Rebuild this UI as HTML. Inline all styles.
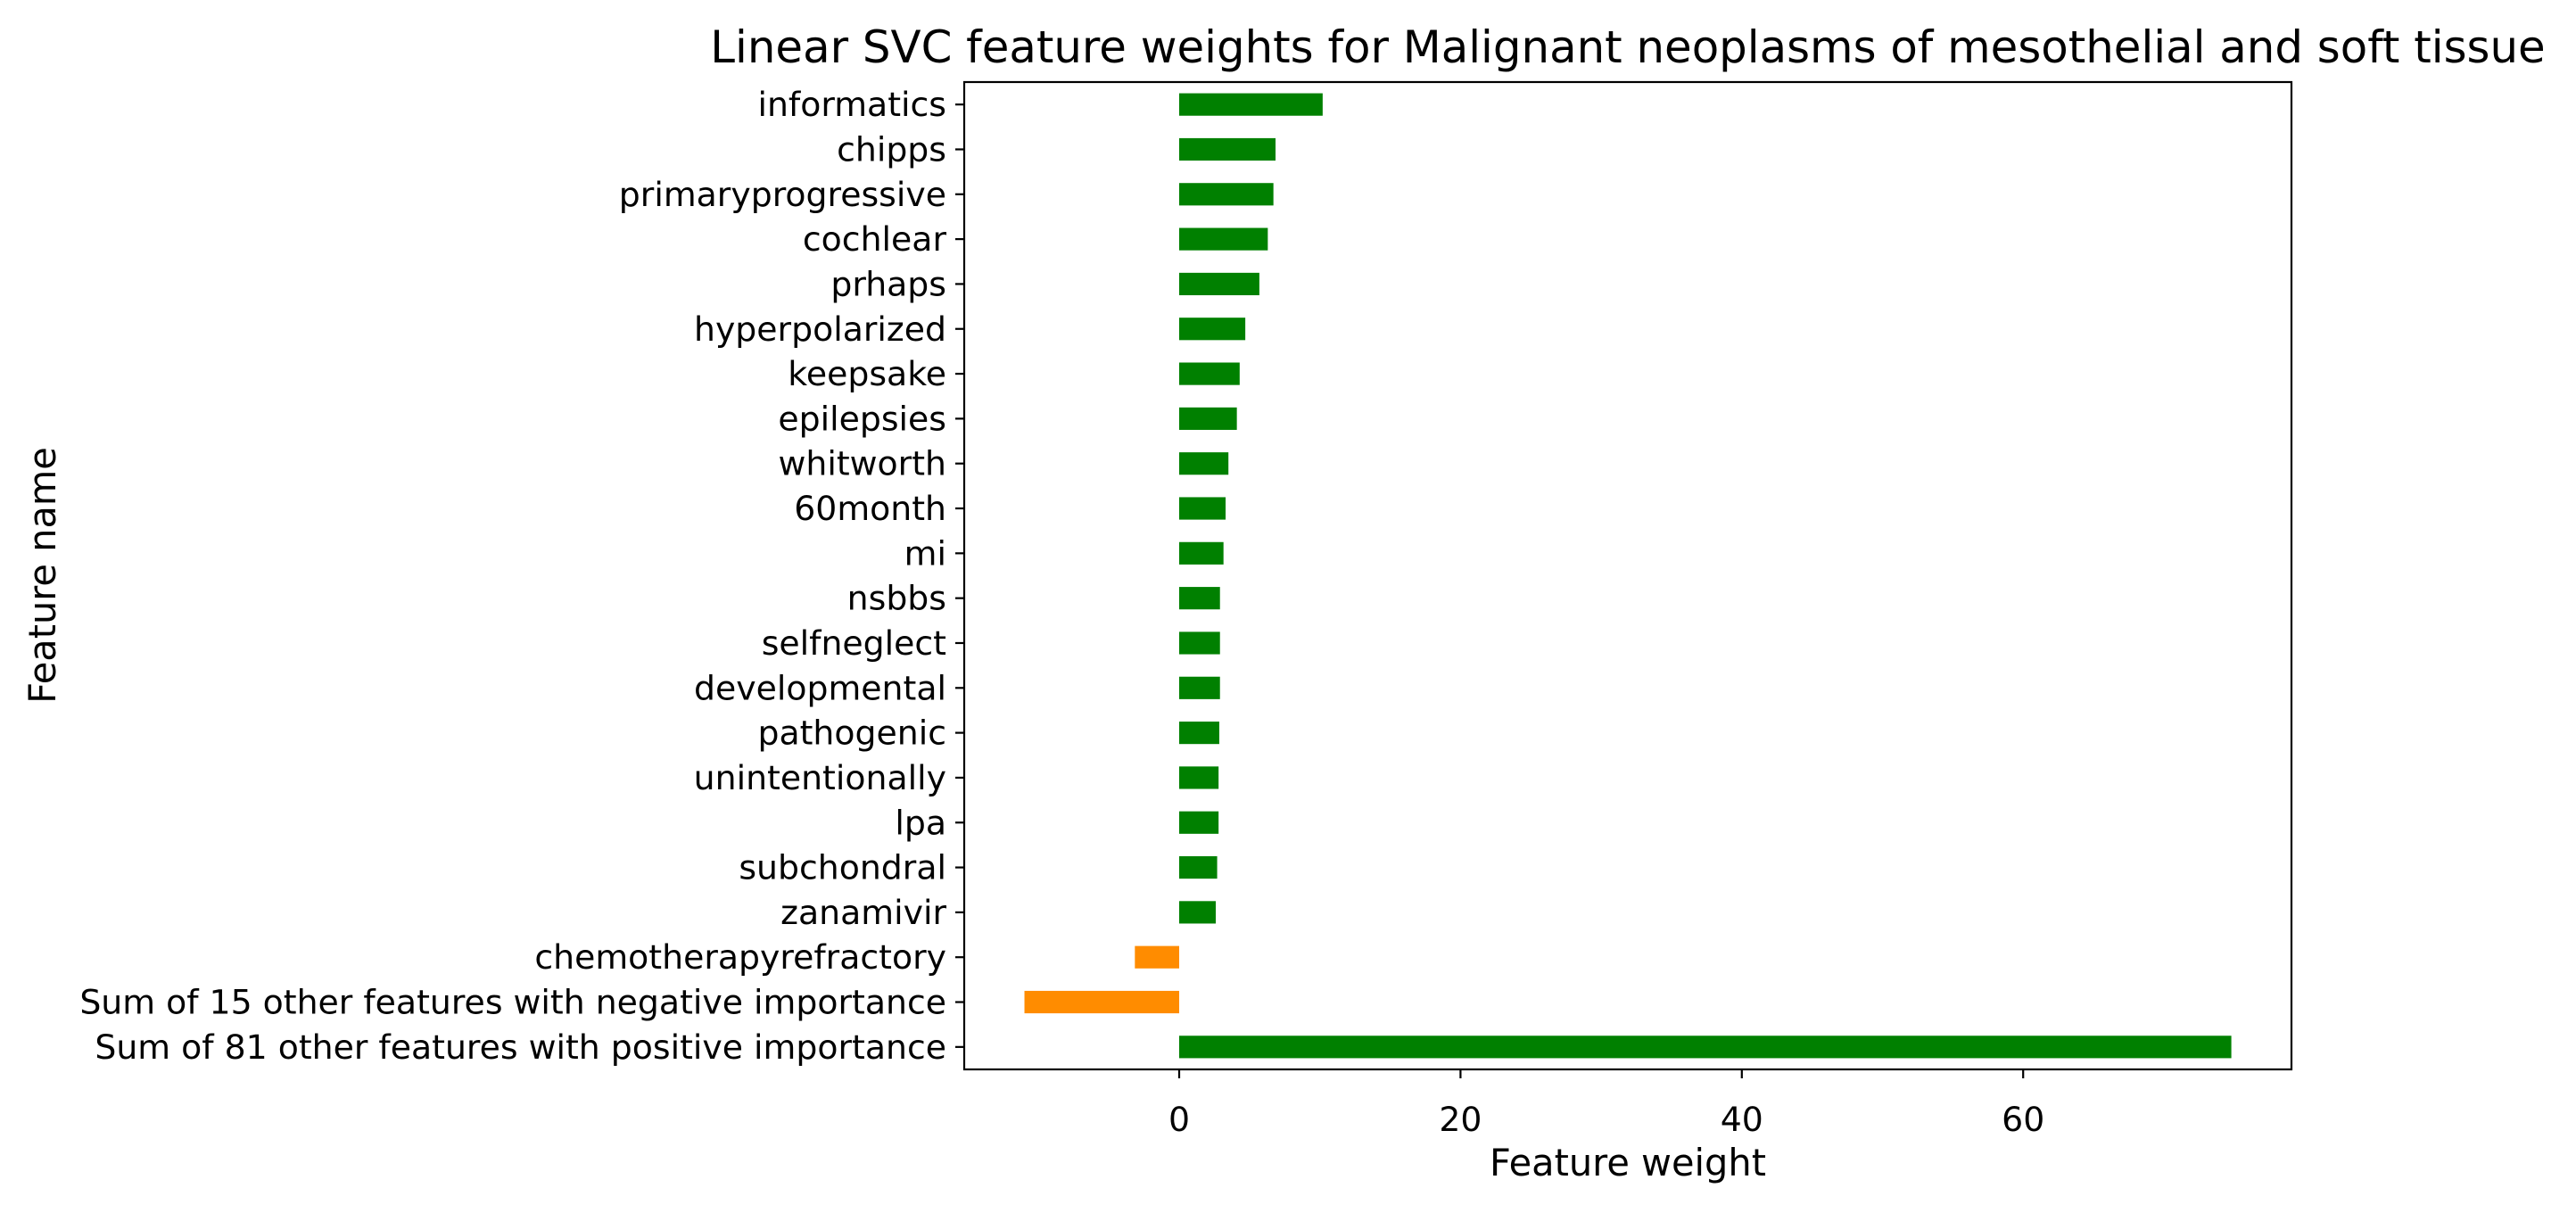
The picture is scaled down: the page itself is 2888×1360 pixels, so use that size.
<!DOCTYPE html>
<html><head><meta charset="utf-8"><style>
html,body{margin:0;padding:0;background:#fff;}
svg text{font-family:"DejaVu Sans","Liberation Sans",sans-serif;fill:#000;}
</style></head><body>
<svg id="chart" width="2888" height="1355" xmlns="http://www.w3.org/2000/svg">
<rect width="2888" height="1355" fill="#fff"/>
<text x="1825" y="70" font-size="49.8" text-anchor="middle">Linear SVC feature weights for Malignant neoplasms of mesothelial and soft tissue</text>
<g id="bars"></g>
<g id="yticks"></g>
<g id="xticks"></g>
<rect x="1081" y="92" width="1488" height="1107" fill="none" stroke="#000" stroke-width="2.2"/>
<text x="1825" y="1318" font-size="41.5" text-anchor="middle">Feature weight</text>
<text transform="translate(62,645) rotate(-90)" font-size="41.5" text-anchor="middle">Feature name</text>
</svg>
<script>
const features = ["informatics","chipps","primaryprogressive","cochlear","prhaps","hyperpolarized","keepsake","epilepsies","whitworth","60month","mi","nsbbs","selfneglect","developmental","pathogenic","unintentionally","lpa","subchondral","zanamivir","chemotherapyrefractory","Sum of 15 other features with negative importance","Sum of 81 other features with positive importance"];
const weights = [10.2,6.85,6.7,6.3,5.7,4.7,4.3,4.1,3.5,3.3,3.15,2.9,2.9,2.9,2.85,2.8,2.8,2.7,2.6,-3.15,-11.0,74.8];
const xTicks = [0,20,40,60];
const NS = "http://www.w3.org/2000/svg";
const x0 = 1322, pxPerUnit = 15.77;
function xs(v){ return x0 + v*pxPerUnit; }
const topY = 92, pitch = 1107/22;
function ys(i){ return topY + (i+0.5)*pitch; }
const bars = document.getElementById('bars');
const yt = document.getElementById('yticks');
const xt = document.getElementById('xticks');
function mk(tag, attrs){ const e=document.createElementNS(NS,tag); for(const k in attrs) e.setAttribute(k,attrs[k]); return e; }
features.forEach((f,i)=>{
  const v = weights[i];
  const r = mk('rect',{x:Math.min(xs(0),xs(v)), y:ys(i)-pitch*0.25, width:Math.abs(xs(v)-xs(0)), height:pitch*0.5, fill: v>=0?'#008000':'#ff8c00'});
  
  
  bars.appendChild(r);
  const t = mk('line',{x1:1071,x2:1081,y1:ys(i),y2:ys(i),stroke:'#000','stroke-width':2.2});
  
  
  yt.appendChild(t);
  const l = mk('text',{x:1061,y:ys(i)+13,'font-size':37.8,'text-anchor':'end'});
  
  
  l.textContent = f;
  yt.appendChild(l);
});
xTicks.forEach(v=>{
  const t = mk('line',{x1:xs(v),x2:xs(v),y1:1199,y2:1209,stroke:'#000','stroke-width':2.2});
  
  
  xt.appendChild(t);
  const l = mk('text',{x:xs(v),y:1268,'font-size':37.8,'text-anchor':'middle'});
  
  
  l.textContent = v;
  xt.appendChild(l);
});
</script>
</body></html>
